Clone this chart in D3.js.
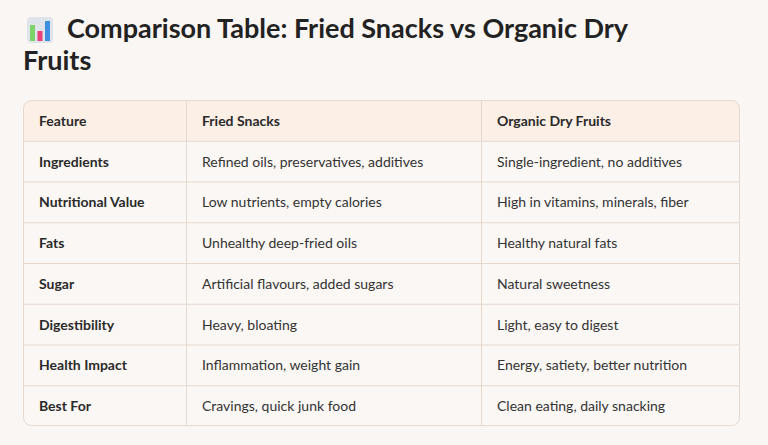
<!DOCTYPE html>
<html><head><meta charset="utf-8">
<script src="https://cdn.jsdelivr.net/npm/d3@7"></script>
<style>body{margin:0;background:#f9f6f3;font-family:Lato,"Open Sans",sans-serif;}</style>
</head><body><div id="chart"></div>
<script>
const columns = ["Feature", "Fried Snacks", "Organic Dry Fruits"];
const features = ["Ingredients", "Nutritional Value", "Fats", "Sugar", "Digestibility", "Health Impact", "Best For"];
const friedSnacks = ["Refined oils, preservatives, additives", "Low nutrients, empty calories", "Unhealthy deep-fried oils",
  "Artificial flavours, added sugars", "Heavy, bloating", "Inflammation, weight gain", "Cravings, quick junk food"];
const dryFruits = ["Single-ingredient, no additives", "High in vitamins, minerals, fiber", "Healthy natural fats",
  "Natural sweetness", "Light, easy to digest", "Energy, satiety, better nutrition", "Clean eating, daily snacking"];

const W = 768, H = 445;
const svg = d3.select("#chart").append("svg").attr("width", W).attr("height", H);
svg.append("rect").attr("width", W).attr("height", H).attr("fill", "#f9f6f3");

// icon
const icon = svg.append("g").attr("transform", "translate(27,17)");
icon.append("rect").attr("width", 26).attr("height", 26).attr("rx", 4).attr("fill", "#dfe3ea");
icon.append("rect").attr("x", 3).attr("y", 8).attr("width", 5).attr("height", 16).attr("fill", "#7bd36a");
icon.append("rect").attr("x", 10.5).attr("y", 14).attr("width", 5).attr("height", 10).attr("fill", "#e8417a");
icon.append("rect").attr("x", 18).attr("y", 4).attr("width", 5).attr("height", 20).attr("fill", "#3f8fe0");

svg.append("text").attr("x", 67).attr("y", 38).attr("font-size", 27).attr("font-weight", 700).attr("fill", "#222")
  .text("Comparison Table: Fried Snacks vs Organic Dry");
svg.append("text").attr("x", 23).attr("y", 70).attr("font-size", 27).attr("font-weight", 700).attr("fill", "#222")
  .text("Fruits");

const tLeft = 23, tRight = 740, tTop = 100, tBottom = 426;
const x = d3.scaleOrdinal().domain(columns).range([tLeft, 186, 481]);
const rows = ["__header"].concat(features);
const y = d3.scaleBand().domain(rows).range([tTop, tBottom]);

svg.append("clipPath").attr("id", "tc").append("rect")
  .attr("x", tLeft).attr("y", tTop).attr("width", tRight - tLeft).attr("height", tBottom - tTop).attr("rx", 8);
const g = svg.append("g").attr("clip-path", "url(#tc)");
g.append("rect").attr("x", tLeft).attr("y", tTop).attr("width", tRight - tLeft).attr("height", tBottom - tTop).attr("fill", "#faf7f4");
g.append("rect").attr("x", tLeft).attr("y", tTop).attr("width", tRight - tLeft).attr("height", y.bandwidth()).attr("fill", "#fcefe5");

const lineCol = "#e5d8ce";
rows.slice(1).forEach(r => g.append("line").attr("x1", tLeft).attr("x2", tRight)
  .attr("y1", y(r) + 0.5).attr("y2", y(r) + 0.5).attr("stroke", lineCol));
columns.slice(1).forEach(c => g.append("line").attr("x1", x(c) + 0.5).attr("x2", x(c) + 0.5)
  .attr("y1", tTop).attr("y2", tBottom).attr("stroke", lineCol));
svg.append("rect").attr("x", tLeft + 0.5).attr("y", tTop + 0.5).attr("width", tRight - tLeft - 1).attr("height", tBottom - tTop - 1)
  .attr("rx", 8).attr("fill", "none").attr("stroke", lineCol);

const cells = [];
columns.forEach(c => cells.push({ col: c, row: "__header", text: c, bold: true }));
features.forEach((f, i) => {
  cells.push({ col: columns[0], row: f, text: f, bold: true });
  cells.push({ col: columns[1], row: f, text: friedSnacks[i], bold: false });
  cells.push({ col: columns[2], row: f, text: dryFruits[i], bold: false });
});
svg.selectAll("text.cell").data(cells).join("text").attr("class", "cell")
  .attr("x", d => x(d.col) + 16)
  .attr("y", d => y(d.row) + y.bandwidth() / 2)
  .attr("dominant-baseline", "central")
  .attr("font-size", 14).attr("font-weight", d => d.bold ? 700 : 400)
  .attr("fill", d => d.bold ? "#2a2a2a" : "#333")
  .text(d => d.text);
</script></body></html>
